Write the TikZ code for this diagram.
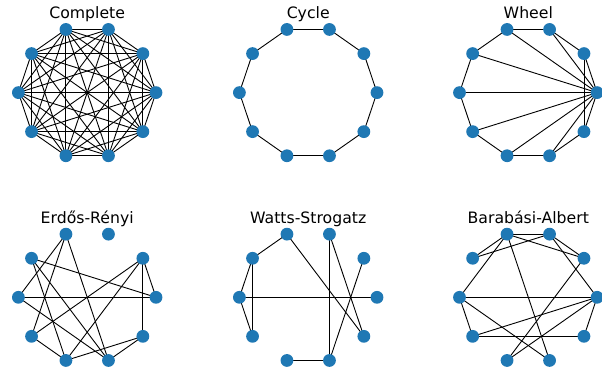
\documentclass[tikz,border=0pt]{standalone}
\usepackage{fontspec}
\setmainfont{DejaVu Sans}
\definecolor{nxblue}{HTML}{1F78B4}
\pgfdeclarelayer{bg}
\pgfsetlayers{bg,main}
\tikzset{
  vert/.style={circle,fill=nxblue,draw=none,minimum size=12.8pt,inner sep=0pt},
  edge/.style={draw=black,line width=0.9pt},
  ttl/.style={anchor=base,font=\fontsize{15.7}{18}\selectfont,inner sep=0pt}
}
\begin{document}
\begin{tikzpicture}[x=1pt,y=-1pt]
\useasboundingbox (0,0) rectangle (602,368);
% vertices of the six circular layouts
\foreach \p/\cx/\cy in {A/87.2/92.6, B/308.2/92.6, C/528.3/92.6, D/87.2/297.3, E/308.2/297.3, F/528.3/297.3}{
  \foreach \i in {0,...,9}{
    \node[vert] (\p\i) at ({\cx+68.8*cos(36*\i)},{\cy-66.4*sin(36*\i)}) {};
  }
}
% titles
\node[ttl] (tA) at (87.2,18.3) {Complete};
\node[ttl] (tB) at (308.2,18.3) {Cycle};
\node[ttl] (tC) at (528.3,18.3) {Wheel};
\node[ttl] (tD) at (87.2,223.0) {Erdős-Rényi};
\node[ttl] (tE) at (308.2,223.0) {Watts-Strogatz};
\node[ttl] (tF) at (528.3,223.0) {Barabási-Albert};
\begin{pgfonlayer}{bg}
  % Complete
  \foreach \i in {0,...,8}{
    \pgfmathtruncatemacro\s{\i+1}
    \foreach \j in {\s,...,9}{\draw[edge] (A\i.center) -- (A\j.center);}
  }
  % Cycle
  \foreach \i in {0,...,9}{
    \pgfmathtruncatemacro\j{mod(\i+1,10)}
    \draw[edge] (B\i.center) -- (B\j.center);
  }
  % Wheel
  \foreach \i in {1,...,9}{\draw[edge] (C0.center) -- (C\i.center);}
  \foreach \i in {1,...,8}{
    \pgfmathtruncatemacro\j{\i+1}
    \draw[edge] (C\i.center) -- (C\j.center);
  }
  \draw[edge] (C9.center) -- (C1.center);
  % Erdos-Renyi
  \foreach \a/\b in {0/5,0/4,0/1,1/9,1/6,1/7,3/5,3/6,3/8,4/7,4/8,5/8,6/7,7/9,8/9}{
    \draw[edge] (D\a.center) -- (D\b.center);
  }
  % Watts-Strogatz
  \foreach \a/\b in {3/4,4/5,4/6,5/6,5/0,3/9,2/8,2/9,1/8,7/8}{
    \draw[edge] (E\a.center) -- (E\b.center);
  }
  % Barabasi-Albert
  \foreach \a/\b in {2/3,3/4,2/4,3/1,2/1,3/5,3/8,1/7,5/0,5/6,5/8,6/9,6/0,7/0,2/0,9/0}{
    \draw[edge] (F\a.center) -- (F\b.center);
  }
\end{pgfonlayer}
\end{tikzpicture}
\end{document}
